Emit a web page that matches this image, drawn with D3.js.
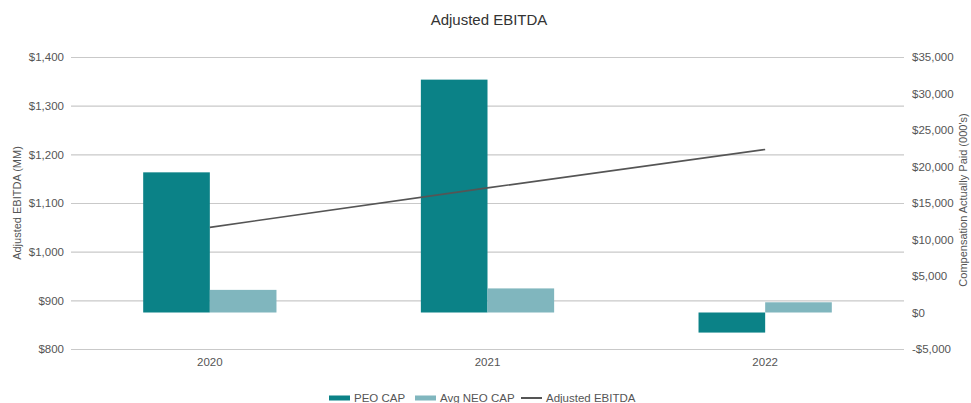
<!DOCTYPE html>
<html>
<head>
<meta charset="utf-8">
<script src="https://cdn.jsdelivr.net/npm/d3@7"></script>
<style>
  body { margin: 0; background: #fff; }
  text { font-family: "Liberation Sans", Arial, sans-serif; }
</style>
</head>
<body>
<div id="chart"></div>
<script>
// chart data
const years = ["2020", "2021", "2022"];
const peoCap = [19200, 31900, -2750];   // $000's, right axis
const neoCap = [3100, 3300, 1400];      // $000's, right axis
const ebitda = [1050, 1131, 1210];      // $MM, left axis
const leftTicks = [800, 900, 1000, 1100, 1200, 1300, 1400];
const rightTicks = [-5000, 0, 5000, 10000, 15000, 20000, 25000, 30000, 35000];
const seriesNames = ["PEO CAP", "Avg NEO CAP", "Adjusted EBITDA"];

const width = 971;
const height = 403;
const margin = {left: 71, right: 67, top: 57, bottom: 54};

const colors = {peo: "#0b8287", neo: "#80b6be", line: "#555555"};

const svg = d3.select("#chart")
  .append("svg")
  .attr("width", width)
  .attr("height", height);

const money = v => (v < 0 ? "-$" : "$") + d3.format(",")(Math.abs(v));

// scales
const x0 = d3.scaleBand()
  .domain(years)
  .range([margin.left, width - margin.right])
  .paddingInner(0.52)
  .paddingOuter(0.26);

const x1 = d3.scaleBand()
  .domain(["peo", "neo"])
  .range([0, x0.bandwidth()]);

const yLeft = d3.scaleLinear()
  .domain([800, 1400])
  .range([height - margin.bottom, margin.top]);

const yRight = d3.scaleLinear()
  .domain([-5000, 35000])
  .range([height - margin.bottom, margin.top]);

// gridlines (left axis)
svg.append("g")
  .attr("transform", `translate(${margin.left},0)`)
  .call(d3.axisLeft(yLeft).tickValues(leftTicks)
          .tickSize(-(width - margin.left - margin.right)).tickFormat(""))
  .call(g => g.select(".domain").remove())
  .call(g => g.selectAll("line").attr("stroke", "#c9c9c9").attr("stroke-width", 1.2));

// left axis labels
svg.append("g")
  .attr("transform", `translate(${margin.left},0)`)
  .call(d3.axisLeft(yLeft).tickValues(leftTicks).tickSize(0).tickPadding(7).tickFormat(money))
  .call(g => g.select(".domain").remove())
  .call(g => g.selectAll("text").attr("fill", "#555").attr("font-size", "11.5px")
                .style("font-family", "'Liberation Sans', Arial, sans-serif"));

// right axis labels
svg.append("g")
  .attr("transform", `translate(${width - margin.right},0)`)
  .call(d3.axisRight(yRight).tickValues(rightTicks).tickSize(0).tickPadding(8).tickFormat(money))
  .call(g => g.select(".domain").remove())
  .call(g => g.selectAll("text").attr("fill", "#555").attr("font-size", "11.5px")
                .style("font-family", "'Liberation Sans', Arial, sans-serif"));

// x axis labels
svg.append("g")
  .attr("transform", `translate(0,${height - margin.bottom})`)
  .call(d3.axisBottom(x0).tickSize(0).tickPadding(9))
  .call(g => g.select(".domain").remove())
  .call(g => g.selectAll("text").attr("fill", "#555").attr("font-size", "11.5px")
                .style("font-family", "'Liberation Sans', Arial, sans-serif"));

// bars
const groups = svg.selectAll(".year")
  .data(years)
  .enter()
  .append("g")
  .attr("class", "year")
  .attr("transform", d => `translate(${x0(d)},0)`);

groups.append("rect")
  .attr("x", x1("peo"))
  .attr("width", x1.bandwidth())
  .attr("y", (d, i) => yRight(Math.max(0, peoCap[i])))
  .attr("height", (d, i) => Math.abs(yRight(peoCap[i]) - yRight(0)))
  .attr("fill", colors.peo);

groups.append("rect")
  .attr("x", x1("neo"))
  .attr("width", x1.bandwidth())
  .attr("y", (d, i) => yRight(Math.max(0, neoCap[i])))
  .attr("height", (d, i) => Math.abs(yRight(neoCap[i]) - yRight(0)))
  .attr("fill", colors.neo);

// EBITDA line
const line = d3.line()
  .x((d, i) => x0(years[i]) + x0.bandwidth() / 2)
  .y(d => yLeft(d));

svg.append("path")
  .datum(ebitda)
  .attr("d", line)
  .attr("fill", "none")
  .attr("stroke", colors.line)
  .attr("stroke-width", 1.6);

// title
svg.append("text")
  .attr("x", 489)
  .attr("y", 25)
  .attr("text-anchor", "middle")
  .attr("font-size", "15px")
  .attr("fill", "#333")
  .text("Adjusted EBITDA");

// axis titles
svg.append("text")
  .attr("transform", "translate(21,203) rotate(-90)")
  .attr("text-anchor", "middle")
  .attr("font-size", "11px")
  .attr("fill", "#555")
  .text("Adjusted EBITDA (MM)");

svg.append("text")
  .attr("transform", "translate(967,200) rotate(-90)")
  .attr("text-anchor", "middle")
  .attr("font-size", "11px")
  .attr("fill", "#555")
  .text("Compensation Actually Paid (000's)");

// legend
const legendX = [329, 415, 521];
const legend = svg.append("g");
seriesNames.forEach((name, i) => {
  const g = legend.append("g").attr("transform", `translate(${legendX[i]},398)`);
  if (i < 2) {
    g.append("rect").attr("x", 0).attr("y", -2.5).attr("width", 21).attr("height", 5)
      .attr("fill", i === 0 ? colors.peo : colors.neo);
  } else {
    g.append("line").attr("x1", 0).attr("x2", 21).attr("y1", 0).attr("y2", 0)
      .attr("stroke", colors.line).attr("stroke-width", 2);
  }
  g.append("text").attr("x", 25).attr("y", 4)
    .attr("font-size", "11.5px").attr("fill", "#555").text(name);
});
</script>
</body>
</html>
